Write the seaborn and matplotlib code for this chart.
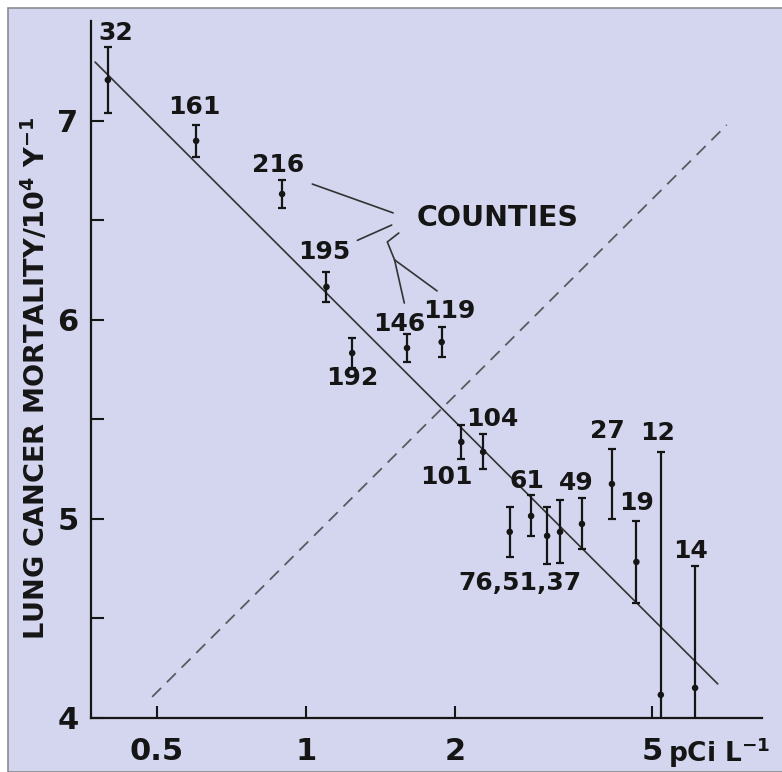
import numpy as np
import pandas as pd
import matplotlib
matplotlib.use('Agg')
import matplotlib.pyplot as plt
from matplotlib.patches import Rectangle
import seaborn as sns

# --- data ---
counties = ['32', '161', '216', '195', '192', '146', '119', '101', '104',
            '76', '61', '51', '37', '49', '27', '19', '12', '14']
radon = [0.398, 0.60, 0.895, 1.10, 1.24, 1.60, 1.88, 2.06, 2.28,
         2.58, 2.85, 3.07, 3.26, 3.61, 4.15, 4.65, 5.21, 6.11]
mortality = [7.206, 6.90, 6.633, 6.166, 5.834, 5.859, 5.889, 5.387, 5.337,
             4.935, 5.015, 4.915, 4.935, 4.975, 5.176, 4.784, 4.116, 4.151]
err = [0.168, 0.080, 0.070, 0.075, 0.075, 0.068, 0.075, 0.085, 0.088,
       0.126, 0.103, 0.143, 0.158, 0.128, 0.178, 0.204, 1.221, 0.613]

# fitted line and the linear no-threshold expectation (dashed)
fit_x = [0.375, 6.79]
fit_y = [7.296, 4.171]
model_x = [0.489, 7.08]
model_y = [4.106, 6.98]

xtick_vals = [0.5, 1, 2, 5]
xtick_labels = ['0.5', '1', '2', '5']
ytick_vals = [4, 4.5, 5, 5.5, 6, 6.5, 7]
ytick_labels = ['4', '', '5', '', '6', '', '7']

df = pd.DataFrame({'county': counties, 'radon': radon,
                   'mortality': mortality, 'err': err})

# label anchors (data coords)
label_pos = [
    ('32', 0.413, 7.44), ('161', 0.594, 7.07), ('216', 0.877, 6.78),
    ('195', 1.09, 6.34), ('192', 1.24, 5.71), ('146', 1.54, 5.98),
    ('119', 1.95, 6.045), ('104', 2.38, 5.50), ('101', 1.92, 5.21),
    ('61', 2.79, 5.19), ('49', 3.51, 5.18), ('27', 4.07, 5.44),
    ('12', 5.14, 5.43), ('19', 4.66, 5.08), ('14', 5.97, 4.84),
    ('76,51,37', 2.71, 4.68),
]

# leader lines from the COUNTIES label
leaders = [
    ([1.03, 1.50], [6.683, 6.538]),
    ([1.27, 1.49], [6.40, 6.477]),
    ([1.54, 1.46, 1.51], [6.437, 6.392, 6.302]),
    ([1.51, 1.58], [6.302, 6.085]),
    ([1.51, 1.84], [6.302, 6.146]),
]

BG = '#D3D6EE'
INK = '#151515'

sns.set_theme(style='ticks')
plt.rcParams['font.family'] = ['DejaVu Sans']
plt.rcParams['font.weight'] = 'bold'

fig = plt.figure(figsize=(7.82, 7.72), dpi=100, facecolor='white')
fig.patches.append(Rectangle((8 / 782, 0), 1, 1 - 8 / 772, transform=fig.transFigure,
                             facecolor=BG, edgecolor='#8a8a90', linewidth=1.2, zorder=-10))
ax = fig.add_axes([0.1164, 0.070, 0.858, 0.9022])
ax.set_facecolor('none')

# lines
sns.lineplot(x=fit_x, y=fit_y, ax=ax, color='#333333', linewidth=1.2,
             estimator=None, sort=False)
sns.lineplot(x=model_x, y=model_y, ax=ax, color='#5a5a60', linewidth=1.3,
             estimator=None, sort=False, linestyle=(0, (7, 4.5)))

# error bars and points
ax.errorbar(df['radon'], df['mortality'], yerr=df['err'], fmt='none',
            ecolor=INK, elinewidth=1.6, capsize=3, capthick=1.6, zorder=3)
sns.scatterplot(data=df, x='radon', y='mortality', ax=ax, color=INK, s=22,
                edgecolor='none', zorder=4)

ax.set_xscale('log')
ax.set_xlim(0.368, 8.34)
ax.set_ylim(4, 7.5)
ax.set_xticks(xtick_vals)
ax.set_xticklabels(xtick_labels)
ax.xaxis.set_minor_locator(matplotlib.ticker.NullLocator())
ax.set_yticks(ytick_vals)
ax.set_yticklabels(ytick_labels)

ax.tick_params(axis='both', direction='in', length=9, width=1.5, color=INK,
               labelsize=22, labelcolor=INK)
ax.tick_params(axis='x', pad=14)
ax.tick_params(axis='y', pad=9)
for lab in ax.get_xticklabels() + ax.get_yticklabels():
    lab.set_fontweight('bold')

sns.despine(ax=ax)
for s in ['left', 'bottom']:
    ax.spines[s].set_linewidth(1.6)
    ax.spines[s].set_color(INK)

ax.set_xlabel('')
ax.set_ylabel('')
ax.text(-0.082, 0.487, r'LUNG CANCER MORTALITY/10$^{\mathbf{4}}$ Y$^{\mathbf{-1}}$',
        transform=ax.transAxes, rotation=90, ha='center', va='center',
        fontsize=19.5, fontweight='bold', color=INK)
ax.text(0.937, -0.050, r'pCi L$^{\mathbf{-1}}$', transform=ax.transAxes,
        ha='center', va='center', fontsize=19, fontweight='bold', color=INK)

for txt, lx, ly in label_pos:
    ax.text(lx, ly, txt, ha='center', va='center', fontsize=18,
            fontweight='bold', color=INK)

ax.text(2.44, 6.51, 'COUNTIES', ha='center', va='center', fontsize=20.5,
        fontweight='bold', color=INK)
for lx, ly in leaders:
    ax.plot(lx, ly, color='#333333', linewidth=1.2)

fig.savefig('out.png', dpi=100, facecolor=fig.get_facecolor())
